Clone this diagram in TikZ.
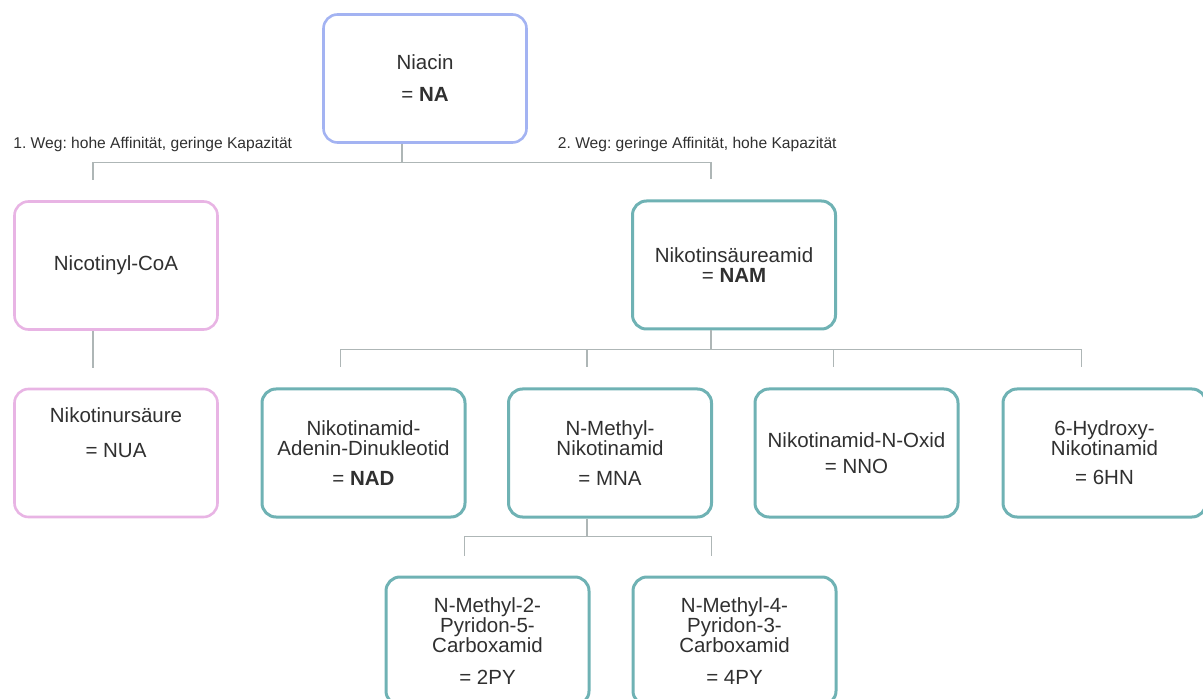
\documentclass[tikz,border=0pt]{standalone}
\usepackage{fontspec}
\setmainfont{Liberation Sans}
\frenchspacing
\definecolor{nablue}{HTML}{A3B3F2}
\definecolor{napink}{HTML}{E8B4E4}
\definecolor{nateal}{HTML}{6FB2B4}
\definecolor{linegray}{HTML}{AEB6B6}
\definecolor{txtgray}{HTML}{303030}
\newcommand{\lifted}[1]{\raisebox{10pt}[\height][\depth]{#1}}
\newcommand{\boxfont}{\fontsize{10.25}{10}\selectfont\lineskiplimit-20pt\relax}
\begin{document}
\begin{tikzpicture}[x=0.5pt,y=-0.5pt,
  box/.style={draw,rounded corners=7pt,line width=1.3pt,fill=white,
    minimum width=101.5pt,minimum height=64pt,align=center,text=txtgray,
    font=\boxfont},
  bluebox/.style={box,draw=nablue},
  pinkbox/.style={box,draw=napink},
  tealbox/.style={box,draw=nateal,line width=1.5pt},
  weglabel/.style={text=txtgray,inner sep=0pt,font=\fontsize{7.8}{9}\selectfont},
  conn/.style={draw=linegray,line width=0.65pt}]
\useasboundingbox (0,0) rectangle (1203,699);
\clip (0,0) rectangle (1203,699);

\node[bluebox] (na) at (425,78.5) {Niacin\\[6pt]= \textbf{NA}};
\node[weglabel,anchor=west] (weg1) at (13,144) {1. Weg: hohe Affinität, geringe Kapazität};
\node[weglabel,anchor=east] (weg2) at (837,144) {2. Weg: geringe Affinität, hohe Kapazität};

\node[pinkbox] (coa) at (116,265.5) {Nicotinyl-CoA};
\node[pinkbox] (nua) at (116,453) {\lifted{Nikotinursäure}\\[7.5pt]\lifted{= NUA}};

\node[tealbox] (nam) at (734,265) {Nikotinsäureamid\\= \textbf{NAM}};
\node[tealbox] (nad) at (363.5,453) {Nikotinamid-\\Adenin-Dinukleotid\\[5pt]= \textbf{NAD}};
\node[tealbox] (mna) at (610,453) {N-Methyl-\\Nikotinamid\\[5pt]= MNA};
\node[tealbox] (nno) at (856.5,453) {Nikotinamid-N-Oxid\\[3pt]= NNO};
\node[tealbox] (hyd) at (1104.5,453) {6-Hydroxy-\\Nikotinamid\\[4.5pt]= 6HN};
\node[tealbox] (py2) at (487.5,641) {N-Methyl-2-\\Pyridon-5-\\Carboxamid\\[6pt]= 2PY};
\node[tealbox] (py4) at (734.5,641) {N-Methyl-4-\\Pyridon-3-\\Carboxamid\\[6pt]= 4PY};

\draw[conn] ([xshift=-11.5pt]na.south) -- ++(0,-9.5pt) -| ([xshift=-11.5pt,yshift=10pt]coa.north);
\draw[conn] ([xshift=-11.5pt]na.south) -- ++(0,-9.5pt) -| ([xshift=-11.5pt,yshift=10pt]nam.north);
\draw[conn] ([xshift=-11.5pt]coa.south) -- ([xshift=-11.5pt,yshift=10pt]nua.north);

\draw[conn] ([xshift=-11.5pt]nam.south) -- ++(0,-9.5pt) -| ([xshift=-11.5pt,yshift=10pt]nad.north);
\draw[conn] ([xshift=-11.5pt]nam.south) -- ++(0,-9.5pt) -| ([xshift=-11.5pt,yshift=10pt]mna.north);
\draw[conn] ([xshift=-11.5pt]nam.south) -- ++(0,-9.5pt) -| ([xshift=-11.5pt,yshift=10pt]nno.north);
\draw[conn] ([xshift=-11.5pt]nam.south) -- ++(0,-9.5pt) -| ([xshift=-11.5pt,yshift=10pt]hyd.north);

\draw[conn] ([xshift=-11.5pt]mna.south) -- ++(0,-9pt) -| ([xshift=-11.5pt,yshift=10pt]py2.north);
\draw[conn] ([xshift=-11.5pt]mna.south) -- ++(0,-9pt) -| ([xshift=-11.5pt,yshift=10pt]py4.north);
\end{tikzpicture}
\end{document}
